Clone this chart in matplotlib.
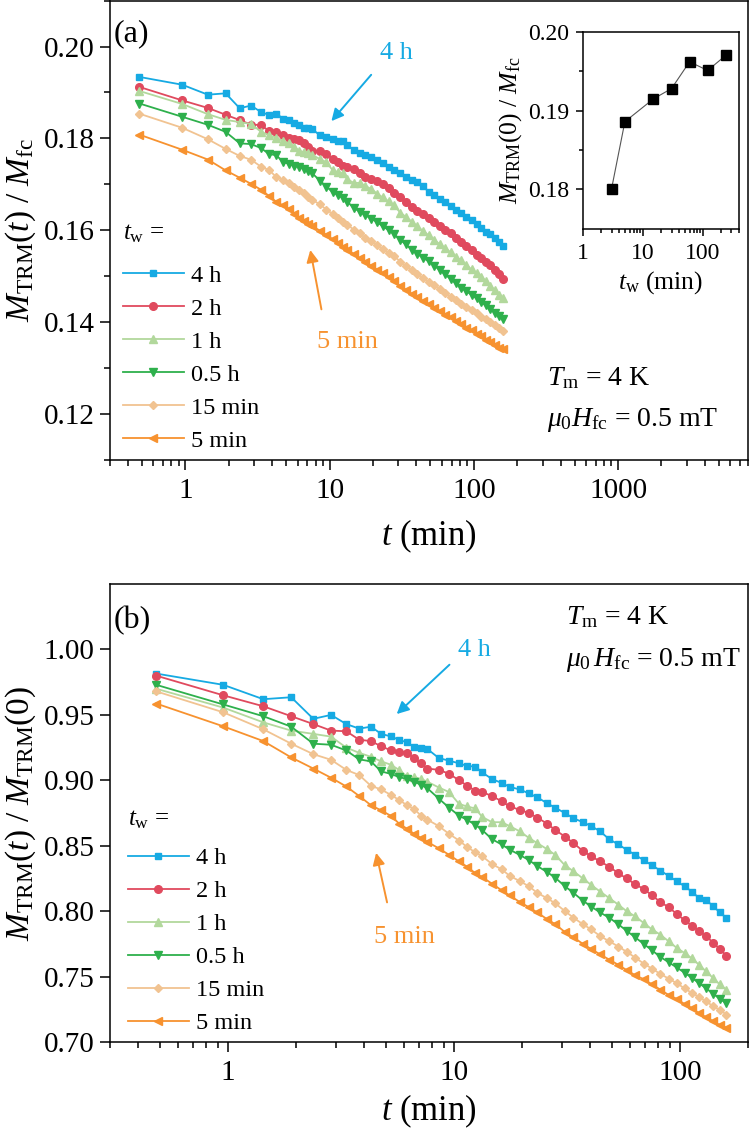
import matplotlib.pyplot as plt
import numpy as np
from matplotlib.ticker import MultipleLocator, FixedLocator, NullFormatter

plt.rcParams['font.family'] = 'Liberation Serif'
plt.rcParams['mathtext.fontset'] = 'custom'
plt.rcParams['mathtext.rm'] = 'Liberation Serif'
plt.rcParams['mathtext.it'] = 'Liberation Serif:italic'
plt.rcParams['mathtext.bf'] = 'Liberation Serif:bold'

# time after field removal (min)
t_min = [0.48, 0.95, 1.43, 1.9, 2.38, 2.85, 3.33, 3.8, 4.28, 4.75,
         5.23, 5.7, 6.18, 6.65, 7.13, 7.6, 8.55, 9.5, 10.5, 11.4,
         12.4, 13.3, 14.7, 16.2, 17.6, 19.5, 21.4, 23.3, 25.7, 28.0,
         30.9, 33.7, 37.1, 40.4, 44.2, 48.5, 53.2, 57.9, 63.2, 68.9,
         75.1, 81.7, 88.8, 96.4, 104.5, 112.6, 121.1, 130.1, 139.6, 149.6,
         160.0]

# M_TRM(t) / M_TRM(0)
norm_4h = [0.9816, 0.9730, 0.9620, 0.9635, 0.9470, 0.9500, 0.9430, 0.9395, 0.9410, 0.9355,
           0.9336, 0.9310, 0.9290, 0.9255, 0.9250, 0.9240, 0.9170, 0.9150, 0.9130, 0.9110,
           0.9105, 0.9060, 0.9010, 0.8980, 0.8950, 0.8930, 0.8900, 0.8870, 0.8826, 0.8790,
           0.8750, 0.8710, 0.8680, 0.8650, 0.8610, 0.8550, 0.8510, 0.8470, 0.8430, 0.8390,
           0.8350, 0.8310, 0.8270, 0.8230, 0.8190, 0.8150, 0.8100, 0.8085, 0.8040, 0.7990,
           0.7950]
norm_2h = [0.9800, 0.9650, 0.9566, 0.9490, 0.9430, 0.9380, 0.9375, 0.9310, 0.9300, 0.9260,
           0.9230, 0.9220, 0.9210, 0.9170, 0.9130, 0.9090, 0.9080, 0.9050, 0.9000, 0.8960,
           0.8920, 0.8910, 0.8880, 0.8840, 0.8800, 0.8775, 0.8750, 0.8715, 0.8670, 0.8620,
           0.8570, 0.8520, 0.8460, 0.8420, 0.8380, 0.8340, 0.8290, 0.8250, 0.8205, 0.8170,
           0.8120, 0.8070, 0.8030, 0.7980, 0.7930, 0.7890, 0.7850, 0.7810, 0.7760, 0.7710,
           0.7660]
norm_1h = [0.9700, 0.9556, 0.9443, 0.9380, 0.9355, 0.9334, 0.9250, 0.9210, 0.9180, 0.9145,
           0.9120, 0.9080, 0.9030, 0.9025, 0.9010, 0.8990, 0.8945, 0.8910, 0.8820, 0.8800,
           0.8785, 0.8720, 0.8680, 0.8680, 0.8650, 0.8610, 0.8560, 0.8520, 0.8475, 0.8430,
           0.8350, 0.8305, 0.8250, 0.8200, 0.8150, 0.8100, 0.8050, 0.8000, 0.7960, 0.7910,
           0.7860, 0.7820, 0.7770, 0.7720, 0.7680, 0.7640, 0.7590, 0.7540, 0.7490, 0.7440,
           0.7400]
norm_05h = [0.9730, 0.9580, 0.9490, 0.9410, 0.9280, 0.9272, 0.9228, 0.9160, 0.9145, 0.9068,
            0.9050, 0.9025, 0.9010, 0.8990, 0.8966, 0.8940, 0.8860, 0.8790, 0.8730, 0.8698,
            0.8660, 0.8620, 0.8550, 0.8510, 0.8470, 0.8430, 0.8390, 0.8345, 0.8300, 0.8255,
            0.8190, 0.8140, 0.8080, 0.8035, 0.7990, 0.7950, 0.7900, 0.7850, 0.7800, 0.7750,
            0.7700, 0.7650, 0.7610, 0.7570, 0.7530, 0.7490, 0.7450, 0.7410, 0.7370, 0.7330,
            0.7296]
norm_15min = [0.9680, 0.9520, 0.9390, 0.9280, 0.9200, 0.9157, 0.9080, 0.9040, 0.8958, 0.8930,
              0.8890, 0.8850, 0.8810, 0.8780, 0.8730, 0.8700, 0.8650, 0.8590, 0.8540, 0.8490,
              0.8450, 0.8420, 0.8360, 0.8320, 0.8270, 0.8230, 0.8190, 0.8140, 0.8100, 0.8060,
              0.8000, 0.7950, 0.7900, 0.7860, 0.7810, 0.7770, 0.7730, 0.7690, 0.7645, 0.7600,
              0.7560, 0.7520, 0.7485, 0.7450, 0.7410, 0.7375, 0.7345, 0.7310, 0.7275, 0.7245,
              0.7210]
norm_5min = [0.9587, 0.9413, 0.9300, 0.9175, 0.9090, 0.9020, 0.8953, 0.8880, 0.8810, 0.8770,
             0.8730, 0.8670, 0.8630, 0.8590, 0.8560, 0.8530, 0.8480, 0.8430, 0.8380, 0.8340,
             0.8290, 0.8260, 0.8210, 0.8160, 0.8120, 0.8070, 0.8030, 0.7990, 0.7940, 0.7900,
             0.7840, 0.7800, 0.7750, 0.7710, 0.7670, 0.7630, 0.7590, 0.7550, 0.7510, 0.7480,
             0.7440, 0.7400, 0.7360, 0.7330, 0.7290, 0.7260, 0.7220, 0.7190, 0.7160, 0.7130,
             0.7110]

# inset: M_TRM(0) / M_fc versus waiting time
tw_inset = [3, 5, 15, 30, 60, 120, 240]
m0_inset = [0.1801, 0.1886, 0.1915, 0.1928, 0.1962, 0.1951, 0.1970]

labels = ['4 h', '2 h', '1 h', '0.5 h', '15 min', '5 min']
series_tw = [240, 120, 60, 30, 15, 5]
series_norm = [norm_4h, norm_2h, norm_1h, norm_05h, norm_15min, norm_5min]
colors = ['#16aae3', '#e04a5e', '#b2d89c', '#2eb04c', '#f1c391', '#f7922f']
markers = ['s', 'o', '^', 'v', 'D', '<']
msizes = [5, 5.5, 5.5, 5.5, 4.5, 5.5]

m0_of = dict(zip(tw_inset, m0_inset))

fig = plt.figure(figsize=(7.5, 11.33), dpi=100)
axa = fig.add_axes([0.1467, 0.594, 0.851, 0.4055])
axb = fig.add_axes([0.1467, 0.0803, 0.851, 0.4042])
ins = fig.add_axes([0.7773, 0.798, 0.208, 0.1739])

t = np.array(t_min)
for lab, tw, nv, c, m, ms in zip(labels, series_tw, series_norm, colors, markers, msizes):
    nv = np.array(nv)
    axa.plot(t, nv * m0_of[tw], color=c, marker=m, ms=ms, lw=1.3, label=lab)
    axb.plot(t, nv, color=c, marker=m, ms=ms, lw=1.3, label=lab)

ins.plot(tw_inset, m0_inset, color='#555555', lw=0.8, marker='s', ms=7.5,
         mfc='black', mec='black')

for ax in (axa, axb, ins):
    ax.set_xscale('log')
    for s in ax.spines.values():
        s.set_linewidth(1.1)
    ax.tick_params(which='both', direction='out', top=False, right=False, width=1.1)
    ax.tick_params(which='major', length=7, pad=6)
    ax.tick_params(which='minor', length=4)

# panel (a)
axa.set_xlim(0.3, 8000)
axa.set_ylim(0.11, 0.21)
axa.set_xticks([1, 10, 100, 1000], ['1', '10', '100', '1000'])
axa.xaxis.set_minor_formatter(NullFormatter())
axa.yaxis.set_major_locator(FixedLocator([0.12, 0.14, 0.16, 0.18, 0.20]))
axa.yaxis.set_minor_locator(MultipleLocator(0.01))
axa.set_yticklabels(['0.12', '0.14', '0.16', '0.18', '0.20'])
axa.tick_params(labelsize=21)
axa.tick_params(axis='y', pad=4)
axa.set_xlabel(r'$t$ (min)', fontsize=25, labelpad=10)
axa.set_ylabel(r'$M_{\rm TRM}(t)\ /\ M_{\rm fc}$', fontsize=24, labelpad=4)

axa.text(0.005, 0.928, '(a)', transform=axa.transAxes, fontsize=23, va='center')
axa.text(0.449, 0.885, '4 h', transform=axa.transAxes, fontsize=19,
         color=colors[0], ha='center', va='center')
axa.annotate('', xy=(0.344, 0.733), xytext=(0.412, 0.843), xycoords='axes fraction',
             arrowprops=dict(arrowstyle='-|>', color=colors[0], lw=1.4, mutation_scale=18))
axa.text(0.372, 0.257, '5 min', transform=axa.transAxes, fontsize=19,
         color=colors[5], ha='center', va='center')
axa.annotate('', xy=(0.313, 0.463), xytext=(0.332, 0.322), xycoords='axes fraction',
             arrowprops=dict(arrowstyle='-|>', color=colors[5], lw=1.4, mutation_scale=18))
axa.text(0.685, 0.178, r'$T_{\rm m}$ = 4 K', transform=axa.transAxes, fontsize=20, va='center')
axa.text(0.685, 0.087, r'$\mu_0H_{\rm fc}$ = 0.5 mT', transform=axa.transAxes, fontsize=20, va='center')

leg_kw = dict(loc='upper left', frameon=False, fontsize=17.5,
              handlelength=2.5, handletextpad=0.3, labelspacing=0.45,
              borderaxespad=0, borderpad=0)
axa.text(0.02, 0.4935, r'$t_{\rm w}$ =', transform=axa.transAxes, fontsize=18, va='center')
axa.legend(bbox_to_anchor=(0.02, 0.425), **leg_kw)

# inset
ins.set_xlim(1, 400)
ins.set_ylim(0.175, 0.20)
ins.set_xticks([1, 10, 100], ['1', '10', '100'])
ins.xaxis.set_minor_formatter(NullFormatter())
ins.yaxis.set_major_locator(FixedLocator([0.18, 0.19, 0.20]))
ins.yaxis.set_minor_locator(FixedLocator([0.185, 0.195]))
ins.set_yticklabels(['0.18', '0.19', '0.20'])
ins.tick_params(labelsize=17)
ins.tick_params(which='major', length=5, pad=5)
ins.tick_params(which='minor', length=3)
ins.set_xlabel(r'$t_{\rm w}$ (min)', fontsize=18.5, labelpad=4)
ins.set_ylabel(r'$M_{\rm TRM}(0)\ /\ M_{\rm fc}$', fontsize=18.5, labelpad=3)

# panel (b)
axb.set_xlim(0.3, 200)
axb.set_ylim(0.70, 1.05)
axb.set_xticks([1, 10, 100], ['1', '10', '100'])
axb.xaxis.set_minor_formatter(NullFormatter())
axb.yaxis.set_major_locator(FixedLocator([0.70, 0.75, 0.80, 0.85, 0.90, 0.95, 1.00]))
axb.set_yticklabels(['0.70', '0.75', '0.80', '0.85', '0.90', '0.95', '1.00'])
axb.tick_params(labelsize=21)
axb.tick_params(axis='y', pad=4)
axb.set_xlabel(r'$t$ (min)', fontsize=25, labelpad=5)
axb.set_ylabel(r'$M_{\rm TRM}(t)\ /\ M_{\rm TRM}(0)$', fontsize=24, labelpad=4)

axb.text(0.005, 0.921, '(b)', transform=axb.transAxes, fontsize=23, va='center')
axb.text(0.571, 0.856, '4 h', transform=axb.transAxes, fontsize=19,
         color=colors[0], ha='center', va='center')
axb.annotate('', xy=(0.446, 0.712), xytext=(0.535, 0.828), xycoords='axes fraction',
             arrowprops=dict(arrowstyle='-|>', color=colors[0], lw=1.4, mutation_scale=18))
axb.text(0.462, 0.229, '5 min', transform=axb.transAxes, fontsize=19,
         color=colors[5], ha='center', va='center')
axb.annotate('', xy=(0.416, 0.419), xytext=(0.435, 0.299), xycoords='axes fraction',
             arrowprops=dict(arrowstyle='-|>', color=colors[5], lw=1.4, mutation_scale=18))
axb.text(0.715, 0.928, r'$T_{\rm m}$ = 4 K', transform=axb.transAxes, fontsize=20, va='center')
axb.text(0.715, 0.834, r'$\mu_0\,H_{\rm fc}$ = 0.5 mT', transform=axb.transAxes, fontsize=20, va='center')

axb.text(0.028, 0.485, r'$t_{\rm w}$ =', transform=axb.transAxes, fontsize=18, va='center')
axb.legend(bbox_to_anchor=(0.028, 0.425), **leg_kw)

fig.savefig('out.png', dpi=100)
